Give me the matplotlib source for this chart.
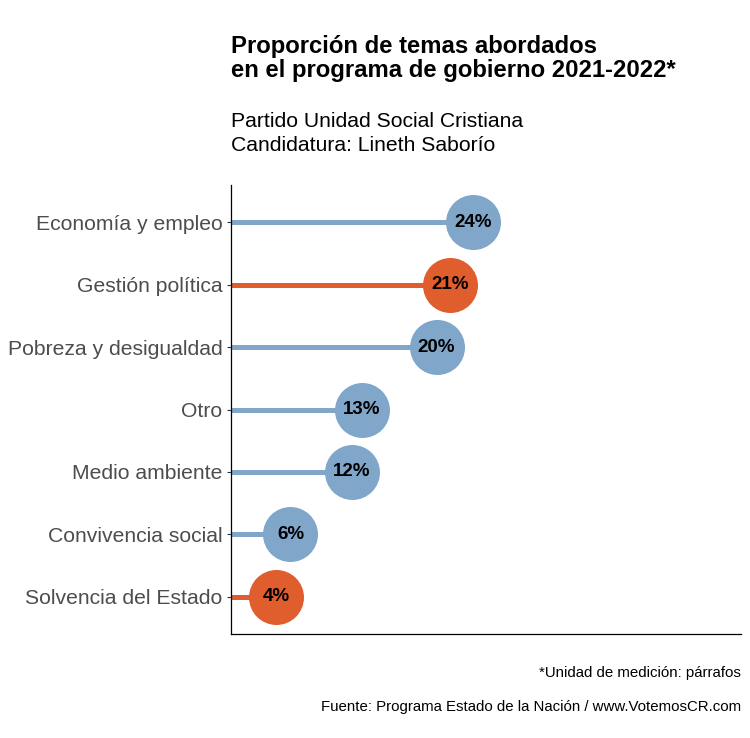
import matplotlib
matplotlib.use("Agg")
import matplotlib.pyplot as plt

categories = ["Economía y empleo", "Gestión política", "Pobreza y desigualdad",
              "Otro", "Medio ambiente", "Convivencia social", "Solvencia del Estado"]
values = [24.0, 21.7, 20.4, 13.0, 12.0, 5.9, 4.5]
labels = ["24%", "21%", "20%", "13%", "12%", "6%", "4%"]
highlight = [False, True, False, False, False, False, True]

BLUE = "#80A7CA"
ORANGE = "#E05E2E"

plt.rcParams['font.family'] = ['Liberation Sans', 'DejaVu Sans']

fig = plt.figure(figsize=(7.5, 7.38), dpi=100)
ax = fig.add_axes([231/750, 1-634/738, (741-231)/750, (634-185)/738])

n = len(categories)
ypos = [n - i for i in range(n)]
for y, v, lab, h in zip(ypos, values, labels, highlight):
    c = ORANGE if h else BLUE
    ax.plot([0, v], [y, y], color=c, lw=3.6, solid_capstyle='butt', zorder=2)
    ax.scatter([v], [y], s=(55*0.72)**2, color=c, zorder=3, linewidths=0)
    ax.text(v, y, lab, ha='center', va='center', fontsize=13.5, fontweight='bold',
            color='black', zorder=4)

ax.set_xlim(0, 50.6)
ax.set_ylim(0.4, n + 0.6)
ax.set_yticks(ypos)
ax.set_yticklabels(categories, fontsize=15.2, color='#4D4D4D')
ax.set_xticks([])
ax.tick_params(axis='y', length=3, width=0.8, color='#333333', pad=3.2)
for s in ['top', 'right']:
    ax.spines[s].set_visible(False)
for s in ['left', 'bottom']:
    ax.spines[s].set_color('black')
    ax.spines[s].set_linewidth(0.9)

def ftext(x, ybase, s, **kw):
    fig.text(x/750, 1-ybase/738, s, va='baseline', **kw)

ftext(231, 53, "Proporción de temas abordados", ha='left', fontsize=17.2, fontweight='bold')
ftext(231, 77.5, "en el programa de gobierno 2021-2022*", ha='left', fontsize=17.2, fontweight='bold')
ftext(231, 127, "Partido Unidad Social Cristiana", ha='left', fontsize=15.2)
ftext(231, 151, "Candidatura: Lineth Saborío", ha='left', fontsize=15.2)
ftext(741, 676.5, "*Unidad de medición: párrafos", ha='right', fontsize=10.8)
ftext(741, 710.5, "Fuente: Programa Estado de la Nación / www.VotemosCR.com", ha='right', fontsize=10.8)

fig.savefig("out.png", dpi=100, facecolor='white')
